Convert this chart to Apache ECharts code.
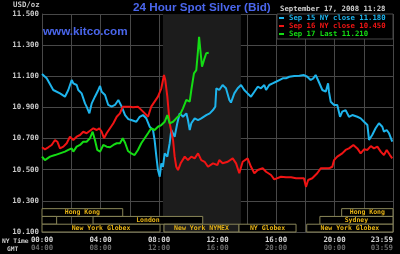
<!DOCTYPE html>
<html><head><meta charset="utf-8">
<script src="https://cdn.jsdelivr.net/npm/echarts@6/dist/echarts.min.js"></script>
<style>html,body{margin:0;padding:0;background:#000;}#c{width:400px;height:254px;}</style>
</head><body><div id="c"></div>
<script>
// ---- data (hours of NY time, USD/oz) ----
var seriesNames = ['Sep 15 NY close 11.180', 'Sep 16 NY close 10.450', 'Sep 17 Last 11.210'];

var blueHours = [0,0.32,0.77,1.23,1.57,1.8,2.03,2.14,2.37,2.48,2.71,2.94,3.05,3.24,3.4,3.51,3.62,3.85,3.97,4.08,4.31,4.53,4.76,4.99,5.22,5.45,5.68,5.9,6.1,6.45,6.68,6.9,7.13,7.36,7.59,7.7,7.82,7.93,8.05,8.16,8.27,8.39,8.57,8.73,8.84,9.07,9.25,9.42,9.64,9.87,9.98,10.1,10.21,10.44,10.67,10.89,11.23,11.47,11.69,11.85,11.92,12.12,12.35,12.58,12.81,12.92,13.15,13.38,13.61,13.83,14.06,14.29,14.52,14.75,14.97,15.2,15.32,15.54,15.77,16,16.23,16.46,16.68,16.91,17.03,17.25,17.6,17.91,18.14,18.37,18.55,18.71,18.87,19.17,19.4,19.56,19.62,19.74,19.97,20.19,20.38,20.53,20.76,20.99,21.22,21.56,21.79,22.02,22.25,22.36,22.58,22.81,23.04,23.27,23.38,23.57,23.73,23.84,23.95];
var blueValues = [11.115,11.087,11.012,10.99,10.969,11.012,11.076,11.055,11.044,11.012,10.99,10.926,10.905,10.862,10.926,10.937,10.969,11.012,11.038,11.001,10.98,10.916,10.905,10.916,10.948,10.905,10.851,10.825,10.819,10.808,10.84,10.851,10.83,10.776,10.755,10.69,10.584,10.498,10.455,10.541,10.519,10.605,10.584,10.67,10.755,10.712,10.798,10.862,10.84,10.862,10.819,10.755,10.798,10.83,10.819,10.83,10.851,10.862,10.883,10.905,11.023,11.012,11.044,11.023,10.948,10.931,10.99,11.023,11.044,11.012,10.99,10.969,11.001,11.033,11.023,11.044,11.012,11.044,11.055,11.065,11.076,11.087,11.087,11.097,11.087,11.102,11.104,11.108,11.097,11.076,11.087,11.108,11.076,11.012,11.001,11.055,11.001,10.937,10.916,10.916,10.84,10.873,10.883,10.84,10.851,10.84,10.83,10.808,10.787,10.691,10.723,10.766,10.798,10.776,10.744,10.755,10.734,10.744,10.68];

var redHours = [0,0.2,0.43,0.66,0.89,1.05,1.23,1.46,1.69,1.91,2.14,2.37,2.6,2.82,3.05,3.28,3.51,3.74,3.92,4.08,4.24,4.42,4.65,4.88,5.11,5.33,5.52,5.79,6.02,6.22,6.56,6.91,7.25,7.47,7.7,7.93,8.16,8.34,8.43,8.57,8.73,8.96,9.07,9.18,9.3,9.48,9.76,9.98,10.21,10.44,10.67,10.89,11.12,11.35,11.69,11.99,12.12,12.35,12.7,13.04,13.27,13.49,13.72,14.06,14.29,14.52,14.75,15.09,15.32,15.66,15.88,16.34,16.68,17.03,17.37,17.91,18.05,18.2,18.48,18.82,19.06,19.28,19.62,19.85,19.97,20.19,20.53,20.76,20.99,21.29,21.56,21.79,22.02,22.25,22.48,22.7,22.93,23.16,23.38,23.57,23.79,23.95];
var redValues = [10.644,10.631,10.644,10.659,10.691,10.68,10.637,10.648,10.67,10.712,10.691,10.712,10.723,10.744,10.734,10.75,10.766,10.755,10.766,10.744,10.702,10.734,10.766,10.798,10.84,10.862,10.905,10.905,10.905,10.901,10.905,10.873,10.84,10.905,10.937,10.969,11.023,11.108,11.076,10.969,10.798,10.691,10.584,10.519,10.498,10.541,10.584,10.562,10.584,10.573,10.605,10.562,10.551,10.519,10.541,10.53,10.562,10.541,10.551,10.573,10.541,10.477,10.551,10.573,10.519,10.477,10.498,10.509,10.487,10.466,10.438,10.455,10.451,10.451,10.445,10.445,10.39,10.434,10.445,10.477,10.509,10.509,10.509,10.519,10.562,10.584,10.605,10.627,10.637,10.659,10.637,10.605,10.631,10.627,10.652,10.637,10.648,10.616,10.594,10.627,10.594,10.573];

var greenHours = [0,0.2,0.32,0.55,0.89,1.23,1.57,1.8,2.03,2.14,2.37,2.6,2.82,3.05,3.28,3.46,3.62,3.78,3.97,4.19,4.42,4.65,4.88,5.11,5.33,5.52,5.68,5.88,6.1,6.33,6.56,6.79,7.02,7.25,7.47,7.7,7.93,8.16,8.39,8.57,8.73,8.96,9.18,9.42,9.64,9.76,9.87,10.1,10.21,10.39,10.55,10.67,10.74,10.85,10.94,11.08,11.23,11.4];
var greenValues = [10.584,10.562,10.551,10.584,10.594,10.605,10.616,10.627,10.637,10.616,10.648,10.659,10.68,10.68,10.702,10.744,10.691,10.627,10.616,10.659,10.648,10.644,10.659,10.67,10.67,10.702,10.673,10.62,10.605,10.594,10.627,10.67,10.702,10.734,10.766,10.755,10.776,10.787,10.808,10.851,10.798,10.808,10.83,10.851,10.894,10.883,10.948,10.937,11.012,11.119,11.14,11.269,11.354,11.248,11.162,11.205,11.248,11.251];

// NYMEX trading session shading (hours)
var nymexStart = 8.27, nymexEnd = 13.6;

// market sessions: name, start hour, end hour, row (0 = top)
var sessionNames = ['Hong Kong', 'Hong Kong', '', 'London', 'Sydney', 'New York Globex', 'New York NYMEX', 'NY Globex', 'New York Globex'];
var sessionStart = [0, 20.49, 0, 3.49, 19.0, 0, 8.34, 13.47, 18.1];
var sessionEnd   = [5.52, 24, 1.0, 10.99, 24, 8.07, 13.47, 17.37, 24];
var sessionRow   = [0, 0, 1, 1, 1, 2, 2, 2, 2];
var rowBands = [[10.2, 10.25], [10.15, 10.2], [10.1, 10.15]];

var yTicks = {min: 10.1, max: 11.5, step: 0.2};
// -------------------------------------------

var colors = ['#1eb4ec', '#f01414', '#14dc14'];
var mono = '"DejaVu Sans Mono", monospace';
function zip(h, v) { return h.map(function (x, i) { return [x, v[i]]; }); }
function pad(n) { return (n < 10 ? '0' : '') + n; }

var sessData = sessionNames.map(function (n, i) {
  var b = rowBands[sessionRow[i]];
  var isNymex = n === 'New York NYMEX';
  return [{ name: n, xAxis: sessionStart[i], yAxis: b[1],
            itemStyle: { color: isNymex ? '#1c1c1c' : '#000', borderColor: '#8a8658', borderWidth: 1 } },
          { xAxis: sessionEnd[i], yAxis: b[0] }];
});

var chart = echarts.init(document.getElementById('c'), null, { renderer: 'canvas' });
chart.setOption({
  backgroundColor: '#000',
  animation: false,
  grid: { left: 42, right: 7, top: 14, bottom: 22 },
  xAxis: {
    type: 'value', min: 0, max: 24, interval: 2,
    axisLine: { lineStyle: { color: '#484848' } },
    axisTick: { show: false },
    splitLine: { lineStyle: { color: '#484848', width: 1 } },
    axisLabel: {
      margin: 4, alignMaxLabel: 'right',
      formatter: function (v) {
        if (v % 4 !== 0 && v !== 24) return '';
        var ny = v >= 24 ? '23:59' : pad(v) + ':00';
        var g = v >= 24 ? '03:59' : pad((v + 4) % 24) + ':00';
        return '{a|' + ny + '}\n{b|' + g + '}';
      },
      rich: {
        a: { color: '#d8d8d8', fontFamily: mono, fontWeight: 'bold', fontSize: 7.4, lineHeight: 8 },
        b: { color: '#6a6a6a', fontFamily: mono, fontWeight: 'bold', fontSize: 7.4, lineHeight: 8 }
      }
    }
  },
  yAxis: {
    type: 'value', min: yTicks.min, max: yTicks.max, interval: yTicks.step,
    axisLine: { show: true, lineStyle: { color: '#484848' } },
    axisTick: { show: false },
    splitLine: { lineStyle: { color: '#484848', width: 1 } },
    axisLabel: {
      margin: 3, color: '#c8c8c8', fontFamily: mono, fontWeight: 'bold', fontSize: 7.4,
      formatter: function (v) { return v.toFixed(3); }
    }
  },
  legend: {
    orient: 'vertical', left: 279, top: 14, padding: 0, itemGap: 0,
    itemWidth: 5, itemHeight: 2, icon: 'rect', selectedMode: false,
    textStyle: { fontFamily: mono, fontWeight: 'bold', fontSize: 7.3, lineHeight: 8 },
    data: seriesNames.map(function (n, i) { return { name: n, textStyle: { color: colors[i] } }; })
  },
  graphic: [
    { type: 'rect', z: 3, shape: { x: 277, y: 14, width: 116, height: 25 }, style: { fill: '#000', stroke: '#484848', lineWidth: 1 } },
    { type: 'text', z: 3, x: 133, y: 7.5, style: { text: '24 Hour Spot Silver (Bid)', fill: '#4a66ec', font: 'bold 11.7px "Liberation Sans", Arial', textVerticalAlign: 'middle' } },
    { type: 'text', z: 3, x: 43, y: 32, style: { text: 'www.kitco.com', fill: '#4a66ec', font: 'bold 11.7px "Liberation Sans", Arial', textVerticalAlign: 'middle' } },
    { type: 'text', z: 3, x: 13, y: 5, style: { text: 'USD/oz', fill: '#c8c8c8', font: 'bold 7.4px "DejaVu Sans Mono"', textVerticalAlign: 'middle' } },
    { type: 'text', z: 3, x: 280, y: 9, style: { text: 'September 17, 2008 11:28', fill: '#d0d0d0', font: 'bold 7.3px "DejaVu Sans Mono"', textVerticalAlign: 'middle' } },
    { type: 'text', z: 3, x: 2, y: 241, style: { text: 'NY Time', fill: '#d0d0d0', font: 'bold 6.3px "DejaVu Sans Mono"', textVerticalAlign: 'middle' } },
    { type: 'text', z: 3, x: 7, y: 249, style: { text: 'GMT', fill: '#d0d0d0', font: 'bold 6.3px "DejaVu Sans Mono"', textVerticalAlign: 'middle' } }
  ],
  series: [
    { type: 'line', name: '_shade', data: [], z: 1, silent: true,
      markArea: { silent: true, itemStyle: { color: '#1c1c1c' },
        data: [[{ xAxis: nymexStart }, { xAxis: nymexEnd }]] } },
    { type: 'line', name: seriesNames[0], data: zip(blueHours, blueValues), showSymbol: false, z: 2,
      itemStyle: { color: colors[0] }, lineStyle: { color: colors[0], width: 2 } },
    { type: 'line', name: seriesNames[1], data: zip(redHours, redValues), showSymbol: false, z: 2,
      itemStyle: { color: colors[1] }, lineStyle: { color: colors[1], width: 2 } },
    { type: 'line', name: seriesNames[2], data: zip(greenHours, greenValues), showSymbol: false, z: 2,
      itemStyle: { color: colors[2] }, lineStyle: { color: colors[2], width: 2 } },
    { type: 'line', name: '_sessions', data: [], z: 3, silent: true,
      markArea: { silent: true,
        label: { show: true, position: 'inside', color: '#e8b414', fontFamily: mono, fontWeight: 'bold', fontSize: 6.5 },
        data: sessData } }
  ]
});
</script></body></html>
